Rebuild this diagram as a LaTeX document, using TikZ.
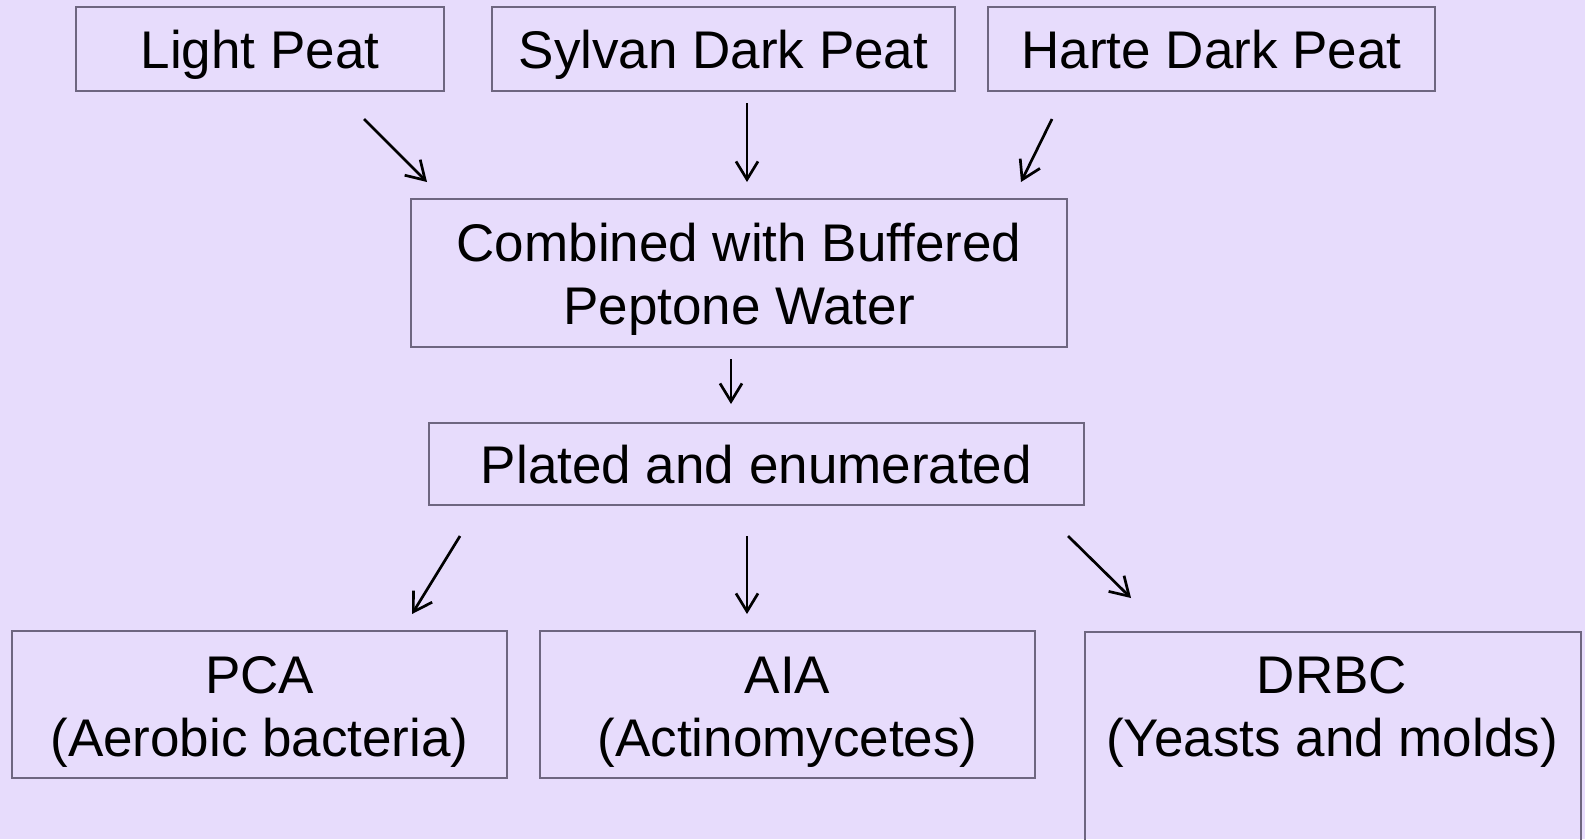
\documentclass[tikz,border=0pt]{standalone}
\usepackage{fontspec}
\setmainfont{Liberation Sans}
\usetikzlibrary{arrows.meta}
\definecolor{bg}{RGB}{231,220,252}
\definecolor{boxline}{RGB}{110,102,128}
\tikzset{
  box/.style={draw=boxline, line width=1.5pt, inner sep=0pt, align=center,
    font=\fontsize{53}{63}\selectfont},
  onebox/.style={box, text height=38pt, text depth=0pt},
  txt/.style={inner sep=0pt, align=center, font=\fontsize{53}{63}\selectfont},
  flow/.style={line width=2.7pt, -{Straight Barb[length=18pt,width=22pt,line width=2.7pt]}}
}
\newcommand{\toppad}{\rule{0pt}{51pt}}
\begin{document}
\begin{tikzpicture}[x=1pt,y=-1pt]
\fill[bg] (0,0) rectangle (1585,839);
\useasboundingbox (0,0) rectangle (1585,839);
% boxes
\node[onebox, minimum width=368pt, minimum height=84pt] (light) at (260,49) {Light Peat};
\node[onebox, minimum width=463pt, minimum height=84pt] (sylvan) at (723.5,49) {Sylvan Dark Peat};
\node[onebox, minimum width=447pt, minimum height=84pt] (harte) at (1211.5,49) {Harte Dark Peat};
\node[box, minimum width=656pt, minimum height=148pt] (comb) at (739,273) {\toppad Combined with Buffered\\Peptone Water};
\node[onebox, minimum width=655pt, minimum height=82pt] (plated) at (756.5,464) {Plated and enumerated};
\node[box, minimum width=495pt, minimum height=147pt] (pca) at (259.5,704.5) {\toppad PCA\\(Aerobic bacteria)};
\node[box, minimum width=495pt, minimum height=147pt] (aia) at (787.5,704.5) {\toppad AIA\\(Actinomycetes)};
\node[box, minimum width=496pt, minimum height=240pt, anchor=north west] (drbcbox) at (1084,631) {};
\node[txt] (drbc) at (1332,704.5) {\toppad DRBC\\(Yeasts and molds)};
% arrow end points
\coordinate (a1s) at (364,119);  \coordinate (a1e) at (427,182);
\coordinate (a2s) at (747,103);  \coordinate (a2e) at (747,182);
\coordinate (a3s) at (1052,119); \coordinate (a3e) at (1021,182);
\coordinate (a4s) at (731,359);  \coordinate (a4e) at (731,404);
\coordinate (a5s) at (460,536);  \coordinate (a5e) at (412,614);
\coordinate (a6s) at (747,536);  \coordinate (a6e) at (747,614);
\coordinate (a7s) at (1068,536); \coordinate (a7e) at (1131,598);
\draw[flow] (a1s) -- (a1e);
\draw[flow] (a2s) -- (a2e);
\draw[flow] (a3s) -- (a3e);
\draw[flow] (a4s) -- (a4e);
\draw[flow] (a5s) -- (a5e);
\draw[flow] (a6s) -- (a6e);
\draw[flow] (a7s) -- (a7e);
\end{tikzpicture}
\end{document}
